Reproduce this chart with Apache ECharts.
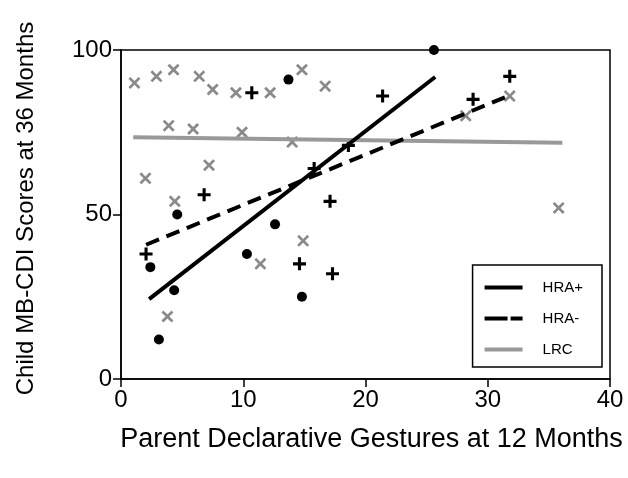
<!DOCTYPE html>
<html><head><meta charset="utf-8">
<script src="https://cdn.jsdelivr.net/npm/echarts@6/dist/echarts.min.js"></script>
<style>html,body{margin:0;padding:0;background:#fff}#c{width:628px;height:478px}</style>
</head><body><div id="c"></div>
<script>
// HRA+ (black dots)
var hraPlusPts = [[2.4,34],[3.1,12],[4.35,27],[4.6,50],[10.3,38],[12.6,47],[13.7,91],[14.8,25],[25.6,100]];
// HRA- (black plus)
var hraMinusPts = [[2.05,38],[6.8,56],[10.7,87],[14.6,35],[15.8,64],[17.1,54],[17.3,32],[18.6,71],[21.4,86],[28.8,85],[31.8,92]];
// LRC (gray x)
var lrcPts = [[1.1,90],[2.0,61],[2.9,92],[3.9,77],[3.8,19],[4.3,94],[4.4,54],[5.9,76],[6.4,92],[7.2,65],[7.5,88],[9.4,87],[9.9,75],[11.4,35],[12.2,87],[14.0,72],[14.8,94],[14.9,42],[16.7,89],[28.2,80],[31.8,86],[35.8,52]];
// fitted lines (endpoints)
var hraPlusFit = [[2.3,24.3],[25.7,91.8]];
var hraMinusFit = [[2.05,40.8],[31.4,85.6]];
var lrcFit = [[1.0,73.5],[36.1,71.8]];
var xTicks = {min:0,max:40,interval:10};
var yTicks = {min:0,max:100,interval:50};

var plusPath = 'path://M3.8,0h2.4v3.8h3.8v2.4h-3.8v3.8h-2.4v-3.8h-3.8v-2.4h3.8z';
var xPath = 'path://M1.6,0L5,3.4L8.4,0L10,1.6L6.6,5L10,8.4L8.4,10L5,6.6L1.6,10L0,8.4L3.4,5L0,1.6Z';
var solidIcon = 'path://M0,0h38v4h-38z';
var dashIcon = 'path://M0,0h23v4h-23zM26,0h12v4h-12z';
var F = 'Liberation Sans, Arial, sans-serif';

var chart = echarts.init(document.getElementById('c'));
chart.setOption({
  animation:false,
  backgroundColor:'#fff',
  grid:{left:121,right:18,top:50,bottom:99,show:true,borderColor:'#000',borderWidth:1.5,backgroundColor:'transparent'},
  xAxis:{type:'value',min:xTicks.min,max:xTicks.max,interval:xTicks.interval,
    name:'Parent Declarative Gestures at 12 Months',nameLocation:'middle',nameGap:47,
    nameTextStyle:{fontFamily:F,fontSize:27,color:'#000',padding:[0,0,0,12]},
    axisLine:{lineStyle:{color:'#000',width:1.5}},
    axisTick:{length:8,lineStyle:{color:'#000',width:1.5}},
    axisLabel:{fontFamily:F,fontSize:24,color:'#000',margin:9},
    splitLine:{show:false}},
  yAxis:{type:'value',min:yTicks.min,max:yTicks.max,interval:yTicks.interval,
    name:'Child MB-CDI Scores at 36 Months',nameLocation:'middle',nameGap:83,
    nameTextStyle:{fontFamily:F,fontSize:24,color:'#000',padding:[0,0,0,12]},
    axisLine:{show:true,lineStyle:{color:'#000',width:1.5}},
    axisTick:{show:true,length:8,lineStyle:{color:'#000',width:1.5}},
    axisLabel:{fontFamily:F,fontSize:24,color:'#000',margin:9},
    splitLine:{show:false}},
  legend:{orient:'vertical',right:26,bottom:111,
    data:[{name:'HRA+',icon:solidIcon},{name:'HRA-',icon:dashIcon},{name:'LRC',icon:solidIcon}],
    borderColor:'#000',borderWidth:1.5,padding:[15,19,10,12],itemGap:16,
    itemWidth:38,itemHeight:4,backgroundColor:'#fff',
    textStyle:{fontFamily:F,fontSize:15,color:'#000',padding:[0,0,0,15]}},
  series:[
    {name:'LRC pts',type:'scatter',data:lrcPts,symbol:xPath,symbolSize:12,itemStyle:{color:'#8a8a8a',opacity:1},emphasis:{disabled:true},z:2},
    {name:'HRA- pts',type:'scatter',data:hraMinusPts,symbol:plusPath,symbolSize:13,itemStyle:{color:'#000',opacity:1},emphasis:{disabled:true},z:3},
    {name:'HRA+ pts',type:'scatter',data:hraPlusPts,symbol:'circle',symbolSize:10,itemStyle:{color:'#000',opacity:1},emphasis:{disabled:true},z:3},
    {name:'LRC',type:'line',data:lrcFit,symbol:'none',lineStyle:{color:'#999',width:4},itemStyle:{color:'#999'},z:4},
    {name:'HRA-',type:'line',data:hraMinusFit,symbol:'none',lineStyle:{color:'#000',width:4,type:[14,8]},itemStyle:{color:'#000'},z:5},
    {name:'HRA+',type:'line',data:hraPlusFit,symbol:'none',lineStyle:{color:'#000',width:4},itemStyle:{color:'#000'},z:5}
  ]
});
</script></body></html>
